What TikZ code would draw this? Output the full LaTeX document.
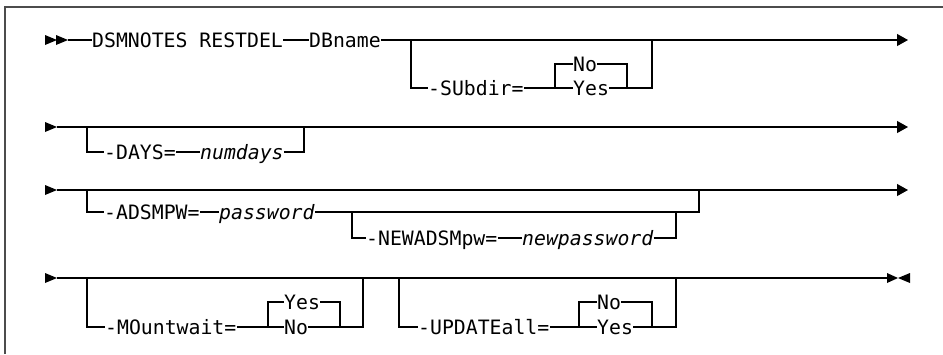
\documentclass[tikz,border=0pt]{standalone}
\usepackage{fontspec}
\setmonofont{DejaVu Sans Mono}
\usetikzlibrary{arrows.meta}

\tikzset{
  kw/.style={inner xsep=0pt, inner ysep=0pt, anchor=west,
             text height=14.4pt, text depth=0pt,
             font=\ttfamily\fontsize{19.8}{20}\selectfont},
  var/.style={kw, font=\ttfamily\itshape\fontsize{19.8}{20}\selectfont},
  rail/.style={line width=1.1pt},
  railtip/.style={rail, -{Triangle[length=11pt,width=12pt]}},
}

\begin{document}
\begin{tikzpicture}[x=1pt, y=-1pt]
\useasboundingbox (0,0) rectangle (943,354) ;
% \draw [help lines, step=50] (0,0) grid (943,354) ;

\draw [line width=2pt, black!70] (5,354) -- (5,7) -- (943,7) ;

% first line
\fill (45,35) -- (57,40) -- (45,45) -- cycle ;
\fill (56,35) -- (68,40) -- (56,45) -- cycle ;
\coordinate (a0) at (68,40) ;
\coordinate (a1) at (908,40) ;
\node [kw] (cmd) at (92,40) {DSMNOTES RESTDEL} ;
\node [kw] (db)  at (309,40) {DBname} ;
\draw [rail] (a0) -- (cmd.west) ;
\draw [rail] (cmd.east) -- (db.west) ;
\draw [railtip] (db.east) -- (a1) ;

\coordinate (sb1) at (411,40) ;
\coordinate (sb2) at (652,40) ;
\coordinate (si1) at (555,88) ;
\coordinate (si2) at (627,88) ;
\node [kw] (subdir) at (428,88) {-SUbdir=} ;
\node [kw] (sno)    at (573,64) {No} ;
\node [kw] (syes)   at (573,88) {Yes} ;
\draw [rail] (sb1) |- (subdir.west) ;
\draw [rail] (subdir.east) -- (syes.west) ;
\draw [rail] (si1) |- (sno.west) ;
\draw [rail] (sno.east) -| (si2) ;
\draw [rail] (syes.east) -| (sb2) ;

% second line
\fill (45,122) -- (57,127) -- (45,132) -- cycle ;
\coordinate (b0) at (57,127) ;
\coordinate (b1) at (908,127) ;
\draw [railtip] (b0) -- (b1) ;

\coordinate (db1) at (87,127) ;
\coordinate (db2) at (304,127) ;
\node [kw]  (days)    at (104,152) {-DAYS=} ;
\node [var] (numdays) at (200,152) {numdays} ;
\draw [rail] (db1) |- (days.west) ;
\draw [rail] (days.east) -- (numdays.west) ;
\draw [rail] (numdays.east) -| (db2) ;

% third line
\fill (45,185) -- (57,190) -- (45,195) -- cycle ;
\coordinate (c0) at (57,190) ;
\coordinate (c1) at (908,190) ;
\draw [railtip] (c0) -- (c1) ;

\coordinate (pb1) at (87,190) ;
\coordinate (pb2) at (699,190) ;
\node [kw]  (adsmpw)   at (104,212) {-ADSMPW=} ;
\node [var] (password) at (219,212) {password} ;
\draw [rail] (pb1) |- (adsmpw.west) ;
\draw [rail] (adsmpw.east) -- (password.west) ;
\draw [rail] (password.east) -| (pb2) ;

\coordinate (nb1) at (352,212) ;
\coordinate (nb2) at (676,212) ;
\node [kw]  (newadsm) at (366,238) {-NEWADSMpw=} ;
\node [var] (newpw)   at (522,238) {newpassword} ;
\draw [rail] (nb1) |- (newadsm.west) ;
\draw [rail] (newadsm.east) -- (newpw.west) ;
\draw [rail] (newpw.east) -| (nb2) ;

% fourth line
\fill (45,273) -- (57,278) -- (45,283) -- cycle ;
\coordinate (d0) at (57,278) ;
\coordinate (d1) at (887,278) ;
\draw [rail] (d0) -- (d1) ;
\fill (887,273) -- (898,278) -- (887,283) -- cycle ;
\fill (910,273) -- (898,278) -- (910,283) -- cycle ;

\coordinate (mb1) at (87,278) ;
\coordinate (mb2) at (363,278) ;
\coordinate (mi1) at (268,327) ;
\coordinate (mi2) at (340,327) ;
\node [kw] (mount) at (105,327) {-MOuntwait=} ;
\node [kw] (myes)  at (284,302) {Yes} ;
\node [kw] (mno)   at (284,327) {No} ;
\draw [rail] (mb1) |- (mount.west) ;
\draw [rail] (mount.east) -- (mno.west) ;
\draw [rail] (mi1) |- (myes.west) ;
\draw [rail] (myes.east) -| (mi2) ;
\draw [rail] (mno.east) -| (mb2) ;

\coordinate (ub1) at (399,278) ;
\coordinate (ub2) at (676,278) ;
\coordinate (ui1) at (579,327) ;
\coordinate (ui2) at (652,327) ;
\node [kw] (update) at (418,327) {-UPDATEall=} ;
\node [kw] (uno)    at (597,302) {No} ;
\node [kw] (uyes)   at (597,327) {Yes} ;
\draw [rail] (ub1) |- (update.west) ;
\draw [rail] (update.east) -- (uyes.west) ;
\draw [rail] (ui1) |- (uno.west) ;
\draw [rail] (uno.east) -| (ui2) ;
\draw [rail] (uyes.east) -| (ub2) ;
\end{tikzpicture}
\end{document}
